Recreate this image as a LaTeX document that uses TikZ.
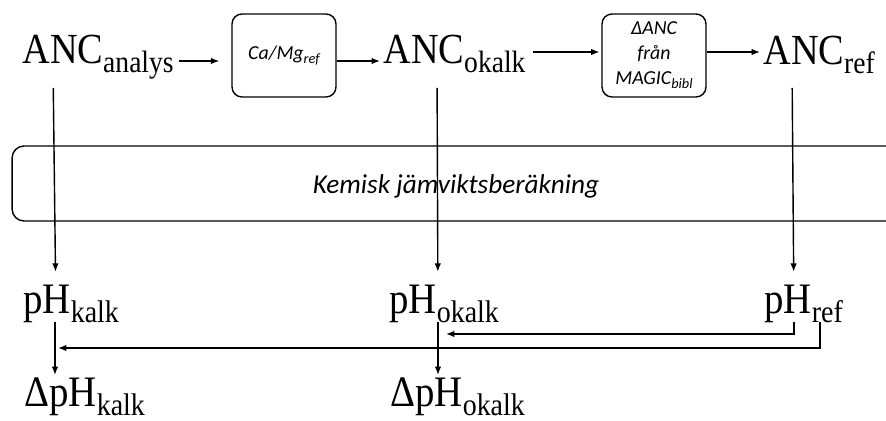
\documentclass[tikz,border=0pt]{standalone}
\usepackage{fontspec}
\setmainfont{Liberation Serif}
\newfontfamily\calibri{Carlito}
\usetikzlibrary{arrows.meta,positioning,calc}

\makeatletter
\newcommand\lo[1]{\raisebox{-0.2em}{\fontsize{\fpeval{0.72*\f@size}}{1}\selectfont #1}}
\makeatother
\newcommand\tall[1]{\scalebox{1}[1.12]{#1}}

\tikzset{
  anc/.style={inner sep=0pt, anchor=base west, font=\fontsize{21.8}{24}\selectfont},
  ph/.style={inner sep=0pt, anchor=base west, font=\fontsize{22.1}{26}\selectfont},
  proc/.style={draw, rounded corners=5.7pt, line width=0.8pt, minimum width=2.08cm, minimum height=1.66cm,
    align=center, inner sep=0pt, font=\calibri\itshape\fontsize{11.3}{14.2}\selectfont},
  arr/.style={-{Latex[length=4.8pt,width=3.7pt]}, line width=0.8pt},
}

\begin{document}
\begin{tikzpicture}[x=0.02cm,y=-0.02cm]
    \useasboundingbox (0,0) rectangle (886,421);
    \clip (0,0) rectangle (886,421);

    % ANC row
    \node[anc] (ancan) at (22,64) {\tall{ANC\lo{analys}}};
    \node[proc] (camg) at (284,55.5) {Ca/Mg\lo{ref}};
    \node[anc] (ancok) at (383,64) {\tall{ANC\lo{okalk}}};
    \node[proc] (dANC) at (654,55.5) {ΔANC\\från\\MAGIC\lo{bibl}};
    \node[anc] (ancref) at (763,65) {\tall{ANC\lo{ref}}};

    \draw[arr, shorten <=2.8pt, shorten >=6.8pt] (ancan.east |- 0,61) -- (camg.west |- 0,61);
    \draw[arr, shorten >=1.7pt] (camg.east |- 0,61) -- (ancok.west |- 0,61);
    \draw[arr, shorten <=4pt, shorten >=1pt] (ancok.east |- 0,52) -- (dANC.west |- 0,52);
    \draw[arr, shorten >=1.7pt] (dANC.east |- 0,52) -- (ancref.west |- 0,52);

    % Kemisk band
    \node[draw, line width=0.8pt, rounded corners=6.8pt, minimum width=17.96cm, minimum height=1.5cm] (band) at (461,183.5) {};
    \node[font=\calibri\itshape\fontsize{15.5}{18}\selectfont] (kemisk) at (456,186) {Kemisk jämviktsberäkning};

    % pH rows
    \node[ph] (phk) at (23,314) {\tall{pH\lo{kalk}}};
    \node[ph] (pho) at (389,314) {\tall{pH\lo{okalk}}};
    \node[ph] (phr) at (764,314) {\tall{pH\lo{ref}}};
    \node[ph] (dphk) at (24,407) {\tall{ΔpH\lo{kalk}}};
    \node[ph] (dpho) at (390,407) {\tall{ΔpH\lo{okalk}}};

    \draw[arr, shorten <=13.6pt, shorten >=24pt] (ancan.base -| 53,0) -- (phk.base -| 56,0);
    \draw[arr, shorten <=13.6pt, shorten >=24pt] (ancok.base -| 437,0) -- (pho.base -| 438,0);
    \draw[arr, shorten <=13pt, shorten >=24pt] (ancref.base -| 792,0) -- (phr.base -| 794,0);

    \draw[arr, shorten <=4.5pt, shorten >=18.2pt] (phk.base -| 55,0) -- (dphk.base -| 55,0);
    \draw[arr, shorten <=4.5pt, shorten >=18.2pt] (pho.base -| 438,0) -- (dpho.base -| 438,0);

    \coordinate (tipo) at (446,334);
    \coordinate (tipk) at (58,348);
    \draw[arr, shorten <=4.5pt] (phr.base -| 794,0) |- (tipo);
    \draw[arr, shorten <=4.5pt] (phr.base -| 820,0) |- (tipk);
\end{tikzpicture}
\end{document}
